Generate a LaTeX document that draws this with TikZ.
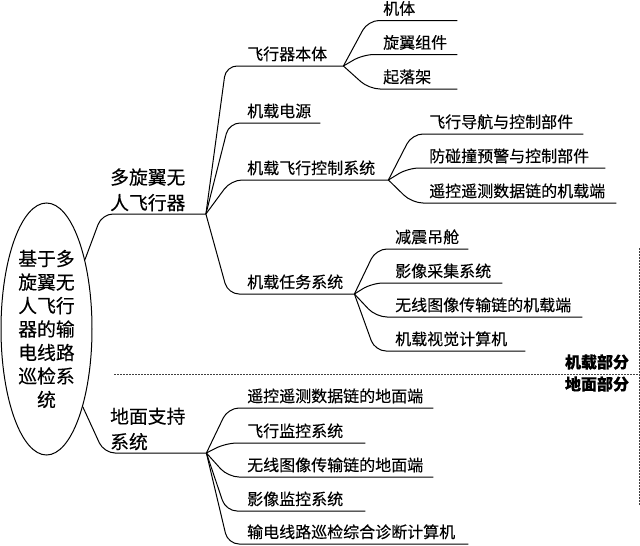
\documentclass[tikz,border=0pt]{standalone}
\usepackage{fontspec}
\setmainfont{Noto Sans CJK SC}[FakeBold=0.2]
\usetikzlibrary{shapes.geometric}
\tikzset{
  branch/.style={line width=1pt, rounded corners=11pt},
  leaf/.style={anchor=south west, inner xsep=0pt, inner ysep=4.5pt, text width=#1, align=left, font=\fontsize{16}{18}\selectfont},
  mainbox/.style={anchor=south west, inner xsep=0pt, inner ysep=2.5pt, text width=#1, align=left, font=\fontsize{18.8}{25.5}\selectfont},
  partlabel/.style={inner sep=0pt, font=\fontsize{16}{18}\selectfont\bfseries},
  partline/.style={dashed, line width=0.8pt, dash pattern=on 2pt off 1pt, black!75}
}
\begin{document}
\begin{tikzpicture}[x=1pt, y=-1pt]
    \useasboundingbox (0,0) rectangle (640,546);
    % root
    \node [draw, ellipse, line width=1pt, minimum width=91pt, minimum height=252pt, inner sep=0pt, align=center, font=\fontsize{18.8}{23.5}\selectfont] (root) at (46.5,329) {基于多\\旋翼无\\人飞行\\器的输\\电线路\\巡检系\\统};
    % second level
    \node [mainbox=95.5pt] (uav) at (110,214) {多旋翼无\\人飞行器};
    \node [mainbox=96pt] (ground) at (110,453) {地面支持\\系统};
    \draw [branch] (root.61) -- (102,214) -- (uav.south east);
    \draw [branch] (root.-65) -- (104,453) -- (ground.south east);
    % on-board parts
    \node [leaf=96pt] (body) at (247,66) {飞行器本体};
    \node [leaf=73pt] (power) at (247,123) {机载电源};
    \node [leaf=141pt] (fcs) at (247,180) {机载飞行控制系统};
    \node [leaf=107pt] (mission) at (247,294) {机载任务系统};
    \draw [branch] (uav.south east) -- (226,66) -- (body.south east);
    \draw [branch] (uav.south east) -- (229,123) -- (power.south east);
    \draw [branch] (uav.south east) -- (231,180) -- (fcs.south east);
    \draw [branch] (uav.south east) -- (228,294) -- (mission.south east);
    % airframe
    \node [leaf=74pt] (frame) at (383,20.5) {机体};
    \node [leaf=74pt] (rotor) at (383,54.5) {旋翼组件};
    \node [leaf=74pt] (gear) at (383,89) {起落架};
    \draw [branch] (body.south east) -- (368,20.5) -- (frame.south east);
    \draw [branch] (body.south east) -- (363,54.5) -- (rotor.south east);
    \draw [branch] (body.south east) -- (369,89) -- (gear.south east);
    % flight control
    \node [leaf=154pt] (nav) at (429,134) {飞行导航与控制部件};
    \node [leaf=176pt] (avoid) at (429,168) {防碰撞预警与控制部件};
    \node [leaf=187pt] (telem) at (429,203) {遥控遥测数据链的机载端};
    \draw [branch] (fcs.south east) -- (412,134) -- (nav.south east);
    \draw [branch] (fcs.south east) -- (408,168) -- (avoid.south east);
    \draw [branch] (fcs.south east) -- (412,203) -- (telem.south east);
    % mission
    \node [leaf=73pt] (damper) at (395,249) {减震吊舱};
    \node [leaf=107pt] (camera) at (395,283) {影像采集系统};
    \node [leaf=187pt] (imglink) at (395,317) {无线图像传输链的机载端};
    \node [leaf=130pt] (vision) at (395,351) {机载视觉计算机};
    \draw [branch] (mission.south east) -- (376,249) -- (damper.south east);
    \draw [branch] (mission.south east) -- (372,283) -- (camera.south east);
    \draw [branch] (mission.south east) -- (376,317) -- (imglink.south east);
    \draw [branch] (mission.south east) -- (375,351) -- (vision.south east);
    % ground parts
    \node [leaf=186pt] (telemg) at (247,408) {遥控遥测数据链的地面端};
    \node [leaf=118pt] (flightm) at (247,443) {飞行监控系统};
    \node [leaf=186pt] (imgg) at (247,477) {无线图像传输链的地面端};
    \node [leaf=118pt] (imgm) at (247,511) {影像监控系统};
    \node [leaf=221pt] (diag) at (247,544) {输电线路巡检综合诊断计算机};
    \draw [branch] (ground.south east) -- (228,408) -- (telemg.south east);
    \draw [branch] (ground.south east) -- (226,443) -- (flightm.south east);
    \draw [branch] (ground.south east) -- (228,477) -- (imgg.south east);
    \draw [branch] (ground.south east) -- (226,511) -- (imgm.south east);
    \draw [branch] (ground.south east) -- (228,544) -- (diag.south east);
    % split between the two parts
    \coordinate (splitl) at (114,374);
    \coordinate (splitr) at (639,374);
    \coordinate (sidet) at (639,248);
    \coordinate (sideb) at (639,505);
    \draw [partline] (splitl) -- (splitr);
    \draw [partline] (sidet) -- (sideb);
    \node [partlabel] (onboard) at (597,362) {机载部分};
    \node [partlabel] (onground) at (597,384) {地面部分};
\end{tikzpicture}
\end{document}
